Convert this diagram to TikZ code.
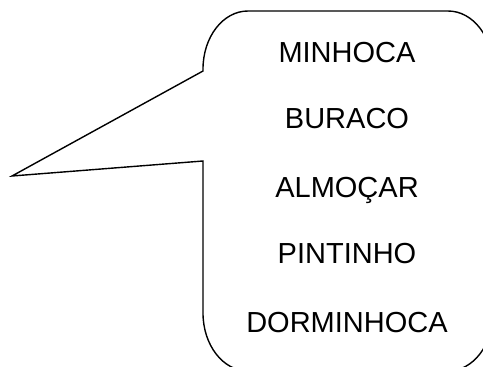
\documentclass[tikz,border=0pt]{standalone}
\usepackage{fontspec}
\setmainfont{Liberation Sans}
\begin{document}
\begin{tikzpicture}[x=1pt,y=-1pt,
  bubble/.style={draw=black,line width=1.4pt,line join=miter},
  word/.style={font=\fontsize{29}{34}\selectfont,anchor=base,inner sep=0pt}]
\useasboundingbox (0,0) rectangle (483,367);
\coordinate (tt) at (203,71);
\coordinate (tip) at (12,176);
\coordinate (tb) at (203,161);
\draw[bubble] (tt) -- (tip) -- (tb) -- (203,313)
  .. controls (203,345) and (223,371) .. (248,371)
  -- (448,371)
  .. controls (473,371) and (493,345) .. (493,313)
  -- (493,69)
  .. controls (493,37) and (473,11) .. (448,11)
  -- (248,11)
  .. controls (223,11) and (203,37) .. (203,69) -- cycle;
\node[word] (w1) at (347,62) {MINHOCA};
\node[word] (w2) at (347,128) {BURACO};
\node[word] (w3) at (347,197) {ALMOÇAR};
\node[word] (w4) at (347,263) {PINTINHO};
\node[word] (w5) at (347,332) {DORMINHOCA};
\end{tikzpicture}
\end{document}
